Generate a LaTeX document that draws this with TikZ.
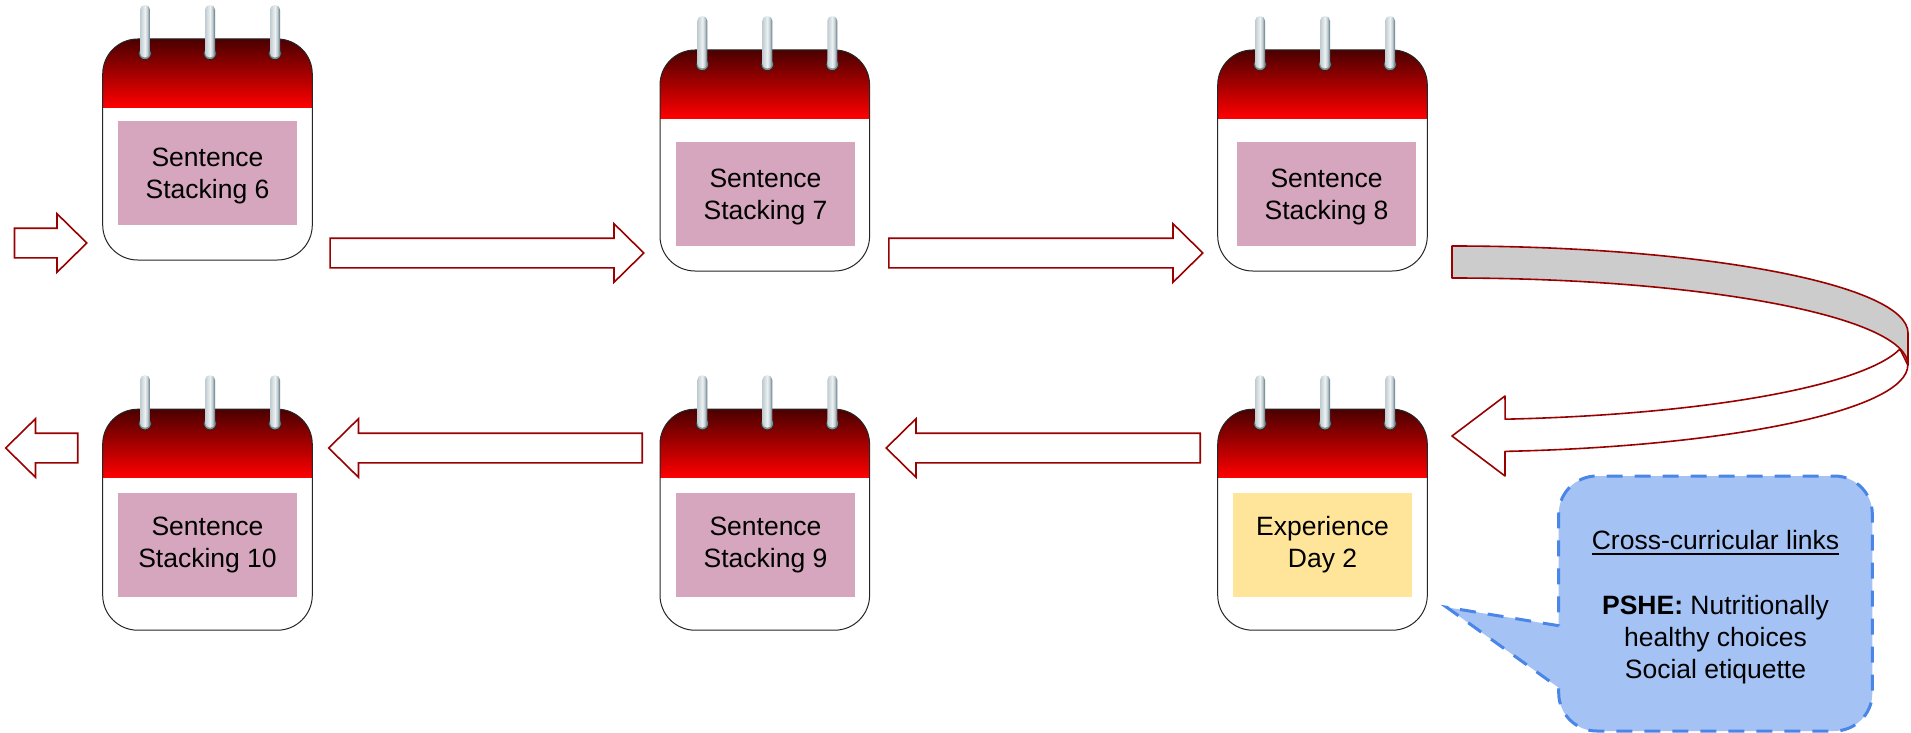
\documentclass[tikz,border=0pt]{standalone}
\usepackage{fontspec}
\setmainfont{Liberation Sans}
\usepackage{xcolor}
\usetikzlibrary{shapes.arrows}
\definecolor{pinkbox}{HTML}{D5A6BD}
\definecolor{yellowbox}{HTML}{FFE599}
\definecolor{arrowred}{HTML}{990000}
\definecolor{bandgrey}{HTML}{CCCCCC}
\definecolor{bluefill}{HTML}{A4C2F4}
\definecolor{blueline}{HTML}{4A86E8}
\definecolor{headdark}{HTML}{4A0000}
\definecolor{ringside}{HTML}{BFCBD0}
\definecolor{ringmid}{HTML}{EDF1F2}
\definecolor{ringedge}{HTML}{6E8590}
\pgfdeclarehorizontalshading{ringshade}{100bp}{
  color(0bp)=(ringside); color(25bp)=(ringside); color(50bp)=(ringmid);
  color(62bp)=(ringside); color(72bp)=(ringedge); color(100bp)=(ringedge)}
\newcommand{\thickul}[1]{\leavevmode\vtop{\hbox{#1}\kern 3pt\hrule height 2pt}}
\newcommand{\rowstrut}{\rule{0pt}{24pt}}
\tikzset{
  datebox/.style={minimum width=179pt, minimum height=104pt, inner sep=0pt, align=center,
    font=\fontsize{26.5}{32}\selectfont},
  blockright/.style={single arrow, draw=arrowred, fill=white, line width=1.6pt, inner xsep=0pt,
    inner ysep=14pt, minimum width=57pt, single arrow head extend=14.5pt,
    single arrow tip angle=89, single arrow head indent=0pt, anchor=tail},
  blockleft/.style={blockright, shape border rotate=180},
  band/.style={draw=arrowred, line width=1.6pt, line join=round},
  calendar/.pic={
    \fill[white] [rounded corners=35pt] (0,0) rectangle (209.6,221);
    \begin{scope}
      \path[clip, rounded corners=35pt] (0,0) rectangle (209.6,221);
      \shade[top color=headdark, bottom color=red] (0,0) rectangle (209.6,68.5);
    \end{scope}
    \draw[black!85, line width=1pt, rounded corners=35pt] (0,0) rectangle (209.6,221);
    \foreach \ringx in {42.3,107.3,172.3} {
      \draw[fill=black!45, draw=black!85, line width=0.8pt] (\ringx,14.5) circle (6.2pt);
      \shade[shading=ringshade, rounded corners=4.8pt] (\ringx-5,-34) rectangle (\ringx+5,18.5);
    }
  },
}
\begin{document}
\begin{tikzpicture}[x=1pt, y=-1pt]
  \useasboundingbox (0,0) rectangle (1911,733);

  % first row
  \pic at (102.7,39) {calendar};
  \pic at (660,50) {calendar};
  \pic at (1217.7,50) {calendar};
  \node[datebox, fill=pinkbox] (stack6) at (207.5,173) {\rowstrut Sentence\\Stacking 6};
  \node[datebox, fill=pinkbox] (stack7) at (765.5,194) {\rowstrut Sentence\\Stacking 7};
  \node[datebox, fill=pinkbox] (stack8) at (1326.5,194) {\rowstrut Sentence\\Stacking 8};

  % second row
  \pic at (102.7,409.2) {calendar};
  \pic at (660,409.2) {calendar};
  \pic at (1217.7,409.2) {calendar};
  \node[datebox, fill=pinkbox] (stack10) at (207.5,545) {Sentence\\Stacking 10};
  \node[datebox, fill=pinkbox] (stack9) at (765.5,545) {Sentence\\Stacking 9};
  \node[datebox, fill=yellowbox] (expday) at (1322.5,545) {Experience\\Day 2};

  % straight arrows
  \node[blockright, minimum height=72.3pt] (arrowin) at (13.7,243) {};
  \node[blockright, minimum height=313.7pt] (arrow67) at (329.3,253) {};
  \node[blockright, minimum height=314pt] (arrow78) at (888,253) {};
  \node[blockleft, minimum height=314pt] (arrowday9) at (1201,448) {};
  \node[blockleft, minimum height=313.5pt] (arrow910) at (643,448) {};
  \node[blockleft, minimum height=72pt] (arrowout) at (78.5,448) {};

  % curved arrow
  \draw[band, fill=bandgrey] (1452,246) arc[start angle=90, end angle=0, x radius=456pt, y radius=87pt]
    -- (1908,365) arc[start angle=0, end angle=90, x radius=456pt, y radius=87pt] -- cycle;
  \draw[band, fill=white] (1900,349) arc[start angle=-10.74, end angle=-83.3, x radius=456pt, y radius=87pt]
    -- (1505,396) -- (1452,436) -- (1505,476) -- (1505,451.4)
    arc[start angle=-83.3, end angle=0, x radius=456pt, y radius=87pt] -- cycle;

  % callout
  \draw[fill=bluefill, draw=blueline, line width=3pt, dash pattern=on 16pt off 12pt]
    (1558.7,625.7) -- (1446.7,607.3) -- (1558.7,687.7) [rounded corners=38pt] -- (1558.7,731)
    -- (1872.3,731) -- (1872.3,476) -- (1558.7,476) [sharp corners] -- cycle;
  \node[align=center, inner sep=0pt, font=\fontsize{26.5}{32}\selectfont] (links) at (1715.5,607.5)
    {\thickul{Cross-curricular links}\\[33pt]\textbf{PSHE:} Nutritionally\\healthy choices\\Social etiquette};
\end{tikzpicture}
\end{document}
